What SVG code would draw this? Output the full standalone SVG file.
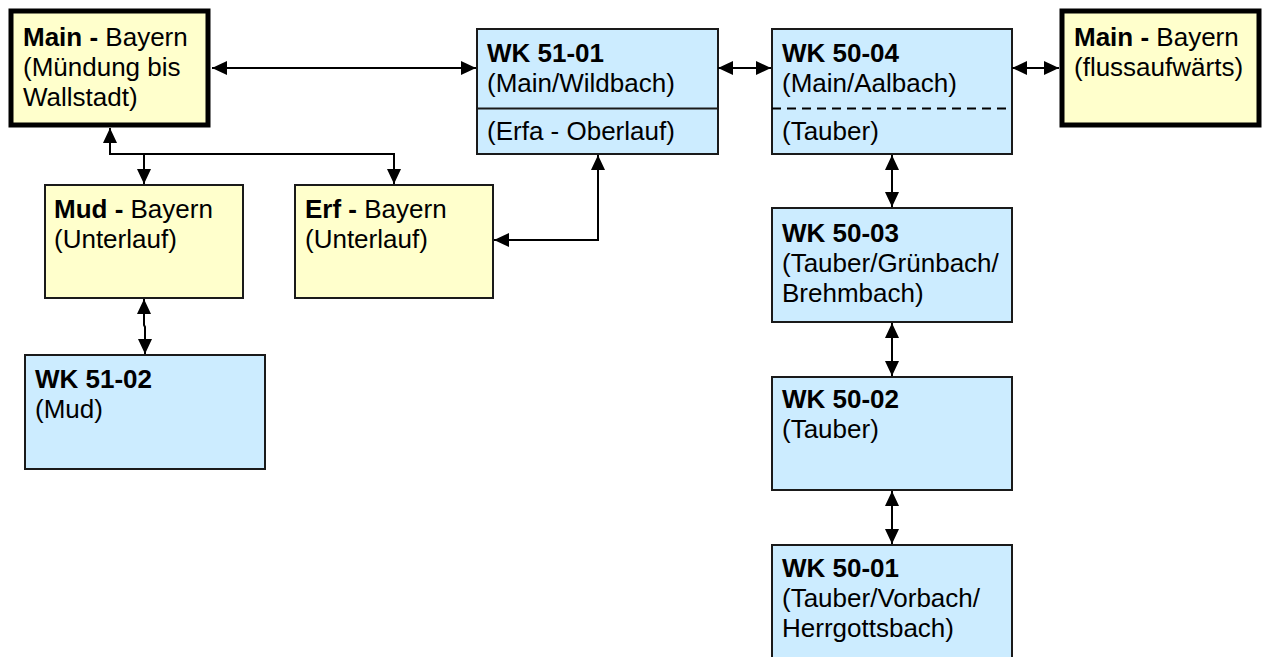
<svg xmlns="http://www.w3.org/2000/svg" width="1264" height="657" viewBox="0 0 1264 657">
<style>
text{font-family:"Liberation Sans",Arial,sans-serif;font-size:26px;fill:#000}
.b{font-weight:bold}
.y{fill:#FFFFCC;stroke:#1a1a1a;stroke-width:2}
.yt{fill:#FFFFCC;stroke:#000;stroke-width:5}
.bl{fill:#CCECFF;stroke:#1a1a1a;stroke-width:2}
.c{fill:none;stroke:#000;stroke-width:2}
</style>
<defs>
<marker id="ah" markerUnits="userSpaceOnUse" markerWidth="15" markerHeight="14" refX="15" refY="7" orient="auto-start-reverse">
<path d="M0,0 L15,7 L0,14 z" fill="#000"/>
</marker>
</defs>
<rect width="1264" height="657" fill="#fff"/>
<g id="main-left">
<rect class="yt" x="11" y="11" width="197" height="114"/>
<text x="23" y="46"><tspan class="b">Main - </tspan>Bayern</text>
<text x="23" y="76">(Mündung bis</text>
<text x="23" y="106">Wallstadt)</text>
</g>
<g id="wk5101">
<rect class="bl" x="477" y="29" width="241" height="125"/>
<line x1="477" y1="108.5" x2="718" y2="108.5" stroke="#1a1a1a" stroke-width="2"/>
<text x="487" y="62" class="b">WK 51-01</text>
<text x="487" y="92">(Main/Wildbach)</text>
<text x="487" y="140">(Erfa - Oberlauf)</text>
</g>
<g id="wk5004">
<rect class="bl" x="772" y="29" width="240" height="125"/>
<line x1="772" y1="108.5" x2="1012" y2="108.5" stroke="#000" stroke-width="2" stroke-dasharray="9 6"/>
<text x="782" y="62" class="b">WK 50-04</text>
<text x="782" y="92">(Main/Aalbach)</text>
<text x="782" y="140">(Tauber)</text>
</g>
<g id="main-right">
<rect class="yt" x="1062" y="11" width="197" height="114"/>
<text x="1074" y="46"><tspan class="b">Main - </tspan>Bayern</text>
<text x="1074" y="76">(flussaufwärts)</text>
</g>
<g id="mud">
<rect class="y" x="45" y="185" width="198" height="113"/>
<text x="54" y="218"><tspan class="b">Mud - </tspan>Bayern</text>
<text x="54" y="248">(Unterlauf)</text>
</g>
<g id="erf">
<rect class="y" x="295" y="185" width="198" height="113"/>
<text x="305" y="218"><tspan class="b">Erf - </tspan>Bayern</text>
<text x="305" y="248">(Unterlauf)</text>
</g>
<g id="wk5102">
<rect class="bl" x="25" y="355" width="240" height="114"/>
<text x="35" y="388" class="b">WK 51-02</text>
<text x="35" y="418">(Mud)</text>
</g>
<g id="wk5003">
<rect class="bl" x="772" y="208" width="240" height="114"/>
<text x="782" y="242" class="b">WK 50-03</text>
<text x="782" y="272">(Tauber/Grünbach/</text>
<text x="782" y="302">Brehmbach)</text>
</g>
<g id="wk5002">
<rect class="bl" x="772" y="377" width="240" height="113"/>
<text x="782" y="408" class="b">WK 50-02</text>
<text x="782" y="438">(Tauber)</text>
</g>
<g id="wk5001">
<rect class="bl" x="772" y="545" width="240" height="120"/>
<text x="782" y="577" class="b">WK 50-01</text>
<text x="782" y="607">(Tauber/Vorbach/</text>
<text x="782" y="637">Herrgottsbach)</text>
</g>
<g id="connectors">
<line class="c" x1="212" y1="68" x2="476" y2="68" marker-start="url(#ah)" marker-end="url(#ah)"/>
<line class="c" x1="718" y1="68" x2="771" y2="68" marker-start="url(#ah)" marker-end="url(#ah)"/>
<line class="c" x1="1012" y1="68" x2="1059" y2="68" marker-start="url(#ah)" marker-end="url(#ah)"/>
<polyline class="c" points="110,128 110,154 394,154 394,184" marker-start="url(#ah)" marker-end="url(#ah)"/>
<polyline class="c" points="144,154 144,184" marker-end="url(#ah)"/>
<polyline class="c" points="598,155 598,240 494,240" marker-start="url(#ah)" marker-end="url(#ah)"/>
<polyline class="c" points="144,299 144,325 145,327 145,354" marker-start="url(#ah)" marker-end="url(#ah)"/>
<line class="c" x1="892" y1="155" x2="892" y2="207" marker-start="url(#ah)" marker-end="url(#ah)"/>
<line class="c" x1="892" y1="323" x2="892" y2="376" marker-start="url(#ah)" marker-end="url(#ah)"/>
<line class="c" x1="892" y1="491" x2="892" y2="544" marker-start="url(#ah)" marker-end="url(#ah)"/>
</g>
</svg>
